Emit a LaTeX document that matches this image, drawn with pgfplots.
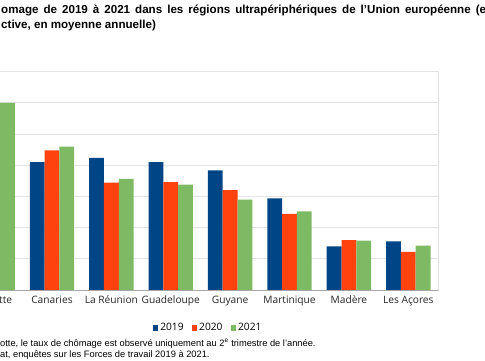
\documentclass[border=0pt]{standalone}
\usepackage{pgfplots}
\pgfplotsset{compat=1.18}
\usepackage{fontspec}
\setmainfont{Liberation Sans}
\newfontfamily\chartfont{Open Sans}
\definecolor{c19}{HTML}{004586}
\definecolor{c20}{HTML}{FF420E}
\definecolor{c21}{HTML}{7EBA64}
\definecolor{gridc}{HTML}{E3E3E3}
\definecolor{basec}{HTML}{A6A6A6}
\begin{document}
\begin{tikzpicture}
\begin{axis}[
  at={(-37.1pt,-290pt)}, anchor=south west,
  width=475.1pt, height=218.3pt, scale only axis,
  xmin=-0.5, xmax=7.5, ymin=0, ymax=35,
  ybar=0pt, bar width=14.8pt,
  ytick={0,5,...,35}, yticklabels={},
  ymajorgrids, grid style={gridc, line width=0.8pt},
  axis line style={gridc, line width=0.8pt},
  major tick length=0pt,
  xtick=data,
  xticklabels={Mayotte,Canaries,La Réunion,Guadeloupe,Guyane,Martinique,Madère,Les Açores},
  x tick label style={font=\chartfont\fontsize{10.2}{12}\selectfont, text=black!85, anchor=base, yshift=-13.5pt},
  legend style={at={(0.516,-0.174)}, anchor=center, draw=none, fill=none,
    legend columns=3, font=\chartfont\fontsize{10.2}{12}\selectfont,
    /tikz/every even column/.append style={column sep=6pt}},
  legend cell align=left,
]
\addplot[fill=c19, draw=none, legend image code/.code={\fill[c19] (0pt,-2.8pt) rectangle (5.6pt,2.8pt);}]
  coordinates {(0,30.0) (1,20.5) (2,21.2) (3,20.5) (4,19.2) (5,14.7) (6,7.0) (7,7.8)};
\addplot[fill=c20, draw=none, legend image code/.code={\fill[c20] (0pt,-2.8pt) rectangle (5.6pt,2.8pt);}]
  coordinates {(0,28.0) (1,22.4) (2,17.2) (3,17.3) (4,16.0) (5,12.2) (6,8.0) (7,6.1)};
\addplot[fill=c21, draw=none, legend image code/.code={\fill[c21] (0pt,-2.8pt) rectangle (5.6pt,2.8pt);}]
  coordinates {(0,30.0) (1,23.0) (2,17.8) (3,16.9) (4,14.5) (5,12.6) (6,7.9) (7,7.1)};
\legend{2019,2020,2021}
\draw[basec, line width=0.8pt] (axis cs:-0.5,0) -- (axis cs:7.5,0);
\end{axis}
\node[anchor=base west, inner sep=0, font=\fontsize{11.6}{14}\selectfont\bfseries] at (1pt,-13pt)
  {\makebox[492pt][s]{omage de 2019 à 2021 dans les régions ultrapériphériques de l’Union européenne (en}};
\node[anchor=base west, inner sep=0, font=\fontsize{11.6}{14}\selectfont\bfseries] at (1pt,-28.5pt)
  {ctive, en moyenne annuelle)};
\node[anchor=base west, inner sep=0, font=\fontsize{9.3}{11}\selectfont] at (0pt,-346.7pt)
  {otte, le taux de chômage est observé uniquement au 2\textsuperscript{e} trimestre de l’année.};
\node[anchor=base west, inner sep=0, font=\fontsize{9.3}{11}\selectfont] at (0pt,-357pt)
  {at, enquêtes sur les Forces de travail 2019 à 2021.};
\pgfresetboundingbox
\path[use as bounding box] (0pt,0pt) rectangle (485pt,-360pt);
\end{tikzpicture}
\end{document}
